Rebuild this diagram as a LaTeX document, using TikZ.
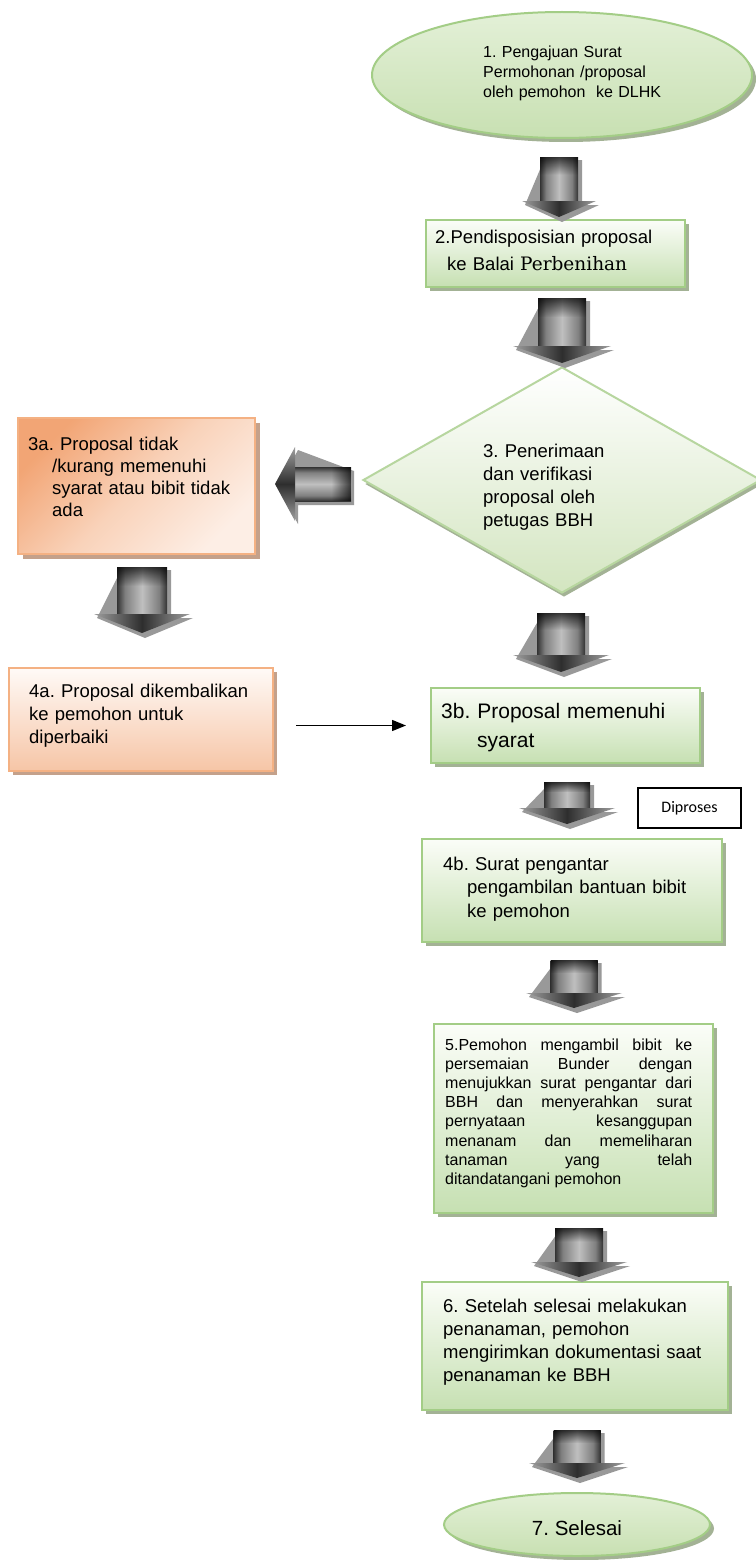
\documentclass[tikz,border=0pt]{standalone}
\usepackage{fontspec}
\usetikzlibrary{shapes.geometric,shadows,fadings,calc,arrows.meta}

\newfontfamily\arial{Liberation Sans}
\newfontfamily\serifpart{DejaVu Serif}
\newfontfamily\calibri{Carlito}
\newcommand\setfs[2]{\fontsize{#1}{#2}\selectfont}
\frenchspacing

% palette
\definecolor{grnBorder}{HTML}{A3CD86}
\definecolor{grnTop}{HTML}{FBFDF8}
\definecolor{grnBottom}{HTML}{C6E0B2}
\definecolor{grnShadow}{HTML}{A3B295}
\definecolor{ovalTop}{HTML}{E3F0D7}
\definecolor{ovalBottom}{HTML}{C8E0B2}
\definecolor{diaBorder}{HTML}{B7D69F}
\definecolor{diaBottom}{HTML}{D3E5C0}
\definecolor{orBorder}{HTML}{F4B183}
\definecolor{orDark}{HTML}{F2A575}
\definecolor{orMid}{HTML}{F9D2B9}
\definecolor{orLight}{HTML}{FDEEE5}
\definecolor{orShadow}{HTML}{C4A18B}
\definecolor{peachTop}{HTML}{FFFAF7}
\definecolor{peachBottom}{HTML}{F6C5A6}

% cylinder-like grey shading for the shafts of the block arrows
\pgfdeclarehorizontalshading{barrel}{100bp}{color(0bp)=(black!80); color(25bp)=(black!80);
  color(33bp)=(black!50); color(50bp)=(black!25); color(67bp)=(black!50);
  color(75bp)=(black!80); color(100bp)=(black!80)}
\pgfdeclareverticalshading{barrelv}{100bp}{color(0bp)=(black!80); color(25bp)=(black!80);
  color(33bp)=(black!50); color(50bp)=(black!25); color(67bp)=(black!50);
  color(75bp)=(black!80); color(100bp)=(black!80)}

% downward block arrow: cx, y top, y head base, y tip, shaft half width, head half width
\newcommand\BlockDown[6]{%
  \fill[black!40] (#1-#5+4,#2+3) -- (#1+#5+4,#2+3) -- (#1+#5+4,#3+4) -- (#1+#6+3,#3+4)
     -- (#1+3,#4+5) -- (#1-#6+3,#3+4) -- cycle;
  \shade[shading=barrel] (#1-#5,#2) rectangle (#1+#5,#3);
  \fill[black, path fading=south, fill opacity=.7] (#1-#5,#2) rectangle (#1+#5,{#2+0.4*(#3-#2)});
  \shade[left color=black!38, right color=black!38, middle color=black!82]
     (#1-#6,#3) -- (#1+#6,#3) -- (#1,#4) -- cycle;
}
% leftward block arrow: cy, x tail, x head base, x tip, shaft half width, head half width
\newcommand\BlockLeft[6]{%
  \fill[black!40] (#2+3,#1-#5+4) -- (#2+3,#1+#5+4) -- (#3+3,#1+#5+4) -- (#3+3,#1+#6+3)
     -- (#4+3,#1+3) -- (#3+3,#1-#6+3) -- cycle;
  \shade[shading=barrelv] (#3,#1-#5) rectangle (#2,#1+#5);
  \fill[black, path fading=west, fill opacity=.7] ({#2-0.35*(#2-#3)},#1-#5) rectangle (#2,#1+#5);
  \shade[top color=black!38, bottom color=black!38, middle color=black!82]
     (#3,#1-#6) -- (#3,#1+#6) -- (#4,#1) -- cycle;
}

\begin{document}
\begin{tikzpicture}[x=1pt,y=-1pt,
  greenbox/.style={draw=grnBorder, line width=2pt, top color=grnTop, bottom color=grnBottom,
    inner sep=0pt, drop shadow={shadow xshift=4pt, shadow yshift=-4pt, fill=grnShadow, opacity=1}},
  greenoval/.style={ellipse, draw=grnBorder, line width=2pt, top color=ovalTop, bottom color=ovalBottom,
    inner sep=0pt, drop shadow={shadow xshift=4pt, shadow yshift=-4pt, fill=grnShadow, opacity=1}},
  decision/.style={diamond, draw=diaBorder, line width=2pt, top color=white, bottom color=diaBottom,
    inner sep=0pt, drop shadow={shadow xshift=2pt, shadow yshift=-4pt, fill=grnShadow, opacity=1}},
  rejectbox/.style={draw=orBorder, line width=2pt, top color=orDark, bottom color=orLight,
    middle color=orMid, shading angle=45, inner sep=0pt,
    drop shadow={shadow xshift=5pt, shadow yshift=-5pt, fill=orShadow, opacity=1}},
  returnbox/.style={draw=orBorder, line width=2pt, top color=peachTop, bottom color=peachBottom,
    inner sep=0pt, drop shadow={shadow xshift=4pt, shadow yshift=-4pt, fill=orShadow, opacity=1}},
  notebox/.style={draw=black, line width=1.2pt, fill=white, inner sep=0pt,
    font=\calibri\setfs{16}{19}},
  lbl/.style={inner sep=0pt, anchor=base west, align=left, text width=#1},
  thinarrow/.style={line width=1.4pt, -{Triangle[length=14pt,width=11pt]}},
]
\useasboundingbox (0,0) rectangle (755,1560);
\fill[white] (0,0) rectangle (755,1560);

% ---- shapes ----
\node[greenoval, minimum width=380pt, minimum height=126pt] (e1) at (562,75) {};
\node[greenbox, minimum width=259pt, minimum height=67pt] (b2) at (555.5,253.5) {};
\node[decision, minimum width=398pt, minimum height=226pt] (d3) at (562,480) {};
\node[rejectbox, minimum width=237pt, minimum height=136pt] (b3a) at (136.5,486) {};
\node[returnbox, minimum width=264pt, minimum height=103pt] (b4a) at (141,719.5) {};
\node[greenbox, minimum width=269pt, minimum height=75pt] (b3b) at (565.5,725.5) {};
\node[notebox, minimum width=103pt, minimum height=40pt] (dp) at (689.5,808) {Diproses};
\node[greenbox, minimum width=300pt, minimum height=103pt] (b4b) at (572,890.5) {};
\node[greenbox, minimum width=279pt, minimum height=189pt] (b5) at (573.5,1118.5) {};
\node[greenbox, minimum width=306pt, minimum height=128pt] (b6) at (575,1346) {};
\node[greenoval, minimum width=266pt, minimum height=63pt] (e7) at (577,1524.5) {};

% ---- block arrows ----
\BlockDown{559}{157}{201}{217}{19}{37}
\BlockDown{562}{298}{346}{363}{24}{49}
\BlockDown{561}{613}{655}{672}{24}{48}
\BlockDown{567}{782}{808}{824}{23}{48}
\BlockDown{574}{960}{993}{1008}{23.5}{48}
\BlockDown{579}{1228}{1262}{1277}{24}{48}
\BlockDown{577}{1430}{1463}{1478}{23.5}{48}
\BlockDown{142}{567}{614}{633}{25}{48}
\BlockLeft{484}{351}{295}{275}{17}{37}

% thin connector from the returned proposal to the accepted one
\draw[thinarrow] ($(b4a.east |- b3b.west)+(22,0)$) -- ($(b3b.west)+(-24,0)$);

% ---- texts ----
\node[lbl=260pt, font=\arial\setfs{16}{20}] (t1) at (483,58)
  {1. Pengajuan Surat\\Permohonan /proposal\\oleh pemohon~ ke DLHK};
\node[lbl=260pt, font=\arial\setfs{18.5}{27}] (t2) at (435,243)
  {2.Pendisposisian proposal\\\hspace*{12pt}ke Balai {\serifpart\setfs{18.5}{27}Perbenihan}};
\node[lbl=200pt, font=\arial\setfs{18.5}{23.2}] (t3) at (483,457)
  {3. Penerimaan\\dan verifikasi\\proposal oleh\\petugas BBH};
\node[lbl=225pt, font=\arial\setfs{18.5}{22}] (t3a) at (28,450)
  {3a. Proposal tidak\\\hspace*{24pt}/kurang memenuhi\\\hspace*{24pt}syarat atau bibit tidak\\\hspace*{24pt}ada};
\node[lbl=240pt, font=\arial\setfs{18.5}{23}] (t4a) at (29,697)
  {4a. Proposal dikembalikan\\ke pemohon untuk\\diperbaiki};
\node[lbl=255pt, font=\arial\setfs{21}{29}] (t3b) at (441,718)
  {3b. Proposal memenuhi\\\hspace*{36pt}syarat};
\node[lbl=275pt, font=\arial\setfs{18.5}{23.5}] (t4b) at (443,870)
  {4b. Surat pengantar\\\hspace*{24pt}pengambilan bantuan bibit\\\hspace*{24pt}ke pemohon};
\node[inner sep=0pt, anchor=base west, text width=247pt, align=justify,
      font=\arial\setfs{16}{19.2}] (t5) at (445,1050)
  {\tolerance=10000\hyphenpenalty=10000\hangindent=11pt\hangafter=1
   5.Pemohon mengambil bibit ke\linebreak
   persemaian Bunder dengan\linebreak
   menujukkan surat pengantar dari\linebreak
   BBH dan menyerahkan surat\linebreak
   pernyataan kesanggupan\linebreak
   menanam dan memeliharan\linebreak
   tanaman yang telah\linebreak
   ditandatangani pemohon};
\node[lbl=285pt, font=\arial\setfs{18.5}{23.3}] (t6) at (443,1312)
  {6. Setelah selesai melakukan\\penanaman, pemohon\\mengirimkan dokumentasi saat\\penanaman ke BBH};
\node[inner sep=0pt, anchor=base, font=\arial\setfs{20.5}{24}] (t7) at (577,1535) {7. Selesai};
\end{tikzpicture}
\end{document}
